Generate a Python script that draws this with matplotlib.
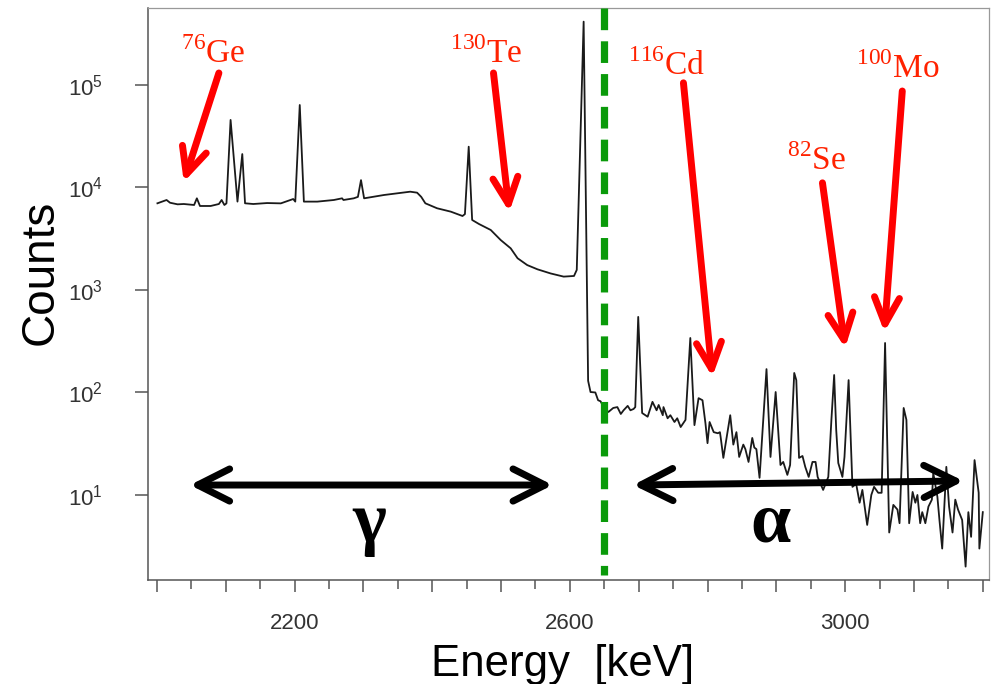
import numpy as np
import matplotlib
matplotlib.use("Agg")
import matplotlib.pyplot as plt
from matplotlib.ticker import FixedLocator, FuncFormatter, NullLocator

# spectrum: gamma part (below 2.6 MeV) and alpha part
gamma_energy = [2000.7, 2014, 2019, 2030, 2039, 2054, 2058, 2062.5, 2078, 2090,
                2094, 2098, 2101, 2107, 2117, 2124, 2128, 2140, 2160, 2180,
                2194, 2198, 2201, 2207.5, 2213.5, 2233, 2257, 2269, 2271, 2286,
                2292, 2296.5, 2301, 2330, 2349, 2368, 2378, 2384, 2390, 2407,
                2427, 2444, 2447.5, 2453, 2458, 2468, 2485, 2499.5, 2514, 2524,
                2538, 2553, 2572, 2591, 2606, 2610, 2620, 2626.5]
gamma_counts = [7010, 7550, 7100, 6850, 6900, 6750, 7840, 6600, 6600, 6900,
                7550, 6750, 7000, 45600, 7280, 21200, 7010, 6900, 7050, 7000,
                7550, 7720, 7280, 63800, 7280, 7280, 7550, 7840, 7550, 7840,
                8100, 11800, 7840, 8450, 8770, 9100, 8900, 8100, 7010, 6270,
                5810, 5270, 5500, 25000, 4820, 4400, 3850, 3070, 2550, 2040,
                1750, 1590, 1450, 1350, 1370, 1570, 415000, 130]

alpha_energy = [2630, 2637, 2641, 2644.6, 2650, 2656, 2663, 2669, 2674, 2678,
                2684, 2688, 2692.5, 2695, 2699.3, 2705, 2713, 2720, 2726, 2729,
                2735, 2736, 2742, 2746, 2752, 2756, 2761, 2768, 2775, 2781,
                2787, 2792.7, 2797, 2800, 2803, 2809, 2815, 2818, 2819, 2823,
                2828, 2833, 2837.5, 2842, 2846, 2852, 2855, 2859.6, 2865, 2868,
                2871, 2875.6, 2885.7, 2891.5, 2899, 2906, 2910, 2916, 2920, 2923,
                2926, 2929, 2933, 2938, 2942, 2947, 2952.5, 2957, 2960, 2968,
                2975.5, 2980, 2984, 2987, 2990, 2996, 2999, 3005, 3010.6, 3016,
                3021, 3025, 3032, 3038, 3042, 3048, 3053, 3058, 3064, 3070,
                3076, 3079, 3085, 3089, 3093, 3098, 3102, 3105, 3109, 3112,
                3116.5, 3121, 3126, 3128, 3134, 3137, 3141, 3147, 3151, 3156,
                3160, 3164, 3170, 3175, 3179, 3183, 3188, 3194, 3195, 3200]
alpha_counts = [101, 100, 84, 82, 70, 64.5, 70.6, 72, 61.7, 67,
                74, 67, 69, 72, 546, 63, 58, 81, 67, 75.5,
                60, 72, 56, 60, 51.5, 56, 46, 54, 340, 48,
                88, 84, 50, 32, 51.5, 41, 40, 41, 37, 23,
                37, 60, 31, 41, 23.5, 31, 28, 21, 36, 29,
                28, 14.7, 169, 23.5, 101, 19.6, 21, 15.7, 19.6, 54,
                155, 132, 23, 24, 18.8, 15, 21, 21, 15, 11.2,
                15, 54, 148, 43, 20.5, 15, 23.5, 132, 12, 12.8,
                8.4, 11.2, 5.1, 10, 12, 10.5, 10.5, 304, 4.3, 8,
                7.2, 5.3, 70.6, 54, 5.3, 10.7, 8.4, 10, 5.3, 6.8,
                5.3, 7.7, 9.0, 16.4, 9.6, 5.7, 3.0, 18.8, 7.7, 4.3,
                9.0, 7.2, 5.7, 2.0, 6.8, 3.9, 21.9, 10.5, 3.0, 6.8]

# isotope labels: (text, label position, arrow tail, arrow tip) in keV / counts
isotopes = [
    (r"$^{76}$Ge", (2081, 1.64e5), (2090, 1.31e5), (2039, 1.13e4)),
    (r"$^{130}$Te", (2478, 1.64e5), (2489, 1.31e5), (2512, 5770)),
    (r"$^{116}$Cd", (2741, 1.25e5), (2765, 1.05e5), (2807, 142)),
    (r"$^{82}$Se", (2958, 1.48e4), (2967, 1.11e4), (3000, 272)),
    (r"$^{100}$Mo", (3077, 1.17e5), (3083, 8.74e4), (3057, 389)),
]
boundary_kev = 2649

plt.rcParams["font.family"] = "Liberation Sans"
plt.rcParams["mathtext.fontset"] = "custom"
plt.rcParams["mathtext.rm"] = "Liberation Serif"
plt.rcParams["mathtext.sf"] = "Liberation Sans"

W, H = 996, 684
fig = plt.figure(figsize=(W / 100, H / 100), dpi=100)
ax = fig.add_axes([148 / W, 1 - 580 / H, (989 - 148) / W, (580 - 8) / H])

energy = gamma_energy + alpha_energy
counts = gamma_counts + alpha_counts
ax.plot(energy, counts, color="#1a1a1a", lw=1.3, zorder=2)

ax.set_yscale("log")
ax.set_xlim(1987, 3209)
ax.set_ylim(1.48, 5.64e5)

ax.yaxis.set_major_locator(FixedLocator([1e1, 1e2, 1e3, 1e4, 1e5]))
ax.yaxis.set_minor_locator(NullLocator())
ax.yaxis.set_major_formatter(
    FuncFormatter(lambda v, p: r"$\mathsf{10^{%d}}$" % round(np.log10(v))))

ax.xaxis.set_major_locator(FixedLocator(np.arange(2000, 3201, 100)))
ax.xaxis.set_minor_locator(FixedLocator(np.arange(2050, 3200, 100)))
ax.xaxis.set_major_formatter(
    FuncFormatter(lambda v, p: f"{v:.0f}" if round(v) in (2200, 2600, 3000) else ""))

ax.tick_params(axis="x", which="major", length=8.6, width=1.1, pad=15,
               labelsize=16, color="#555555", labelcolor="#333333")
ax.tick_params(axis="x", which="minor", length=6.5, width=1.1, color="#555555")
ax.tick_params(axis="y", which="major", length=9.4, width=1.1, pad=23,
               labelsize=16, color="#555555", labelcolor="#333333")

for side in ("left", "bottom"):
    ax.spines[side].set_color("#555555")
    ax.spines[side].set_linewidth(1.1)
for side in ("top", "right"):
    ax.spines[side].set_color("#999999")
    ax.spines[side].set_linewidth(0.9)

# gamma / alpha boundary
ax.plot([boundary_kev, boundary_kev], [1.0, 0.008], transform=ax.get_xaxis_transform(),
        color="#0a9a0a", lw=5.2, dashes=(3.0, 1.54), zorder=4, clip_on=False)

for text, label_xy, tail, tip in isotopes:
    ax.annotate("", xy=tip, xytext=tail, zorder=5,
                arrowprops=dict(arrowstyle="->,head_length=0.95,head_width=0.45",
                                color="red", lw=5, mutation_scale=20,
                                shrinkA=0, shrinkB=0))
    ax.text(*label_xy, text, color="#ff2200", fontsize=24, family="Liberation Serif",
            ha="center", va="baseline", zorder=5)

# region arrows
black_arrow = dict(arrowstyle="<->,head_length=1.15,head_width=0.58", color="black",
                   lw=5, mutation_scale=20, shrinkA=0, shrinkB=0,
                   capstyle="round", joinstyle="round")
ax.annotate("", xy=(2575, 12.5), xytext=(2048, 12.5), arrowprops=black_arrow, zorder=5)
ax.annotate("", xy=(3172, 13.7), xytext=(2692, 12.5), arrowprops=black_arrow, zorder=5)
ax.text(2308, 3.48, "γ", fontsize=52, fontweight="bold",
        family=["Liberation Serif", "DejaVu Serif"], ha="center", va="baseline")
ax.text(2891, 3.48, "α", fontsize=52, fontweight="bold",
        family=["Liberation Serif", "DejaVu Serif"], ha="center", va="baseline")

fig.text(53 / W, 1 - 272 / H, "Counts", rotation=90, rotation_mode="anchor",
         ha="center", va="baseline", fontsize=33)
fig.text(563 / W, 1 - 676 / H, "Energy  [keV]", ha="center", va="baseline",
         fontsize=31.5)

fig.savefig("out.png", dpi=100)
